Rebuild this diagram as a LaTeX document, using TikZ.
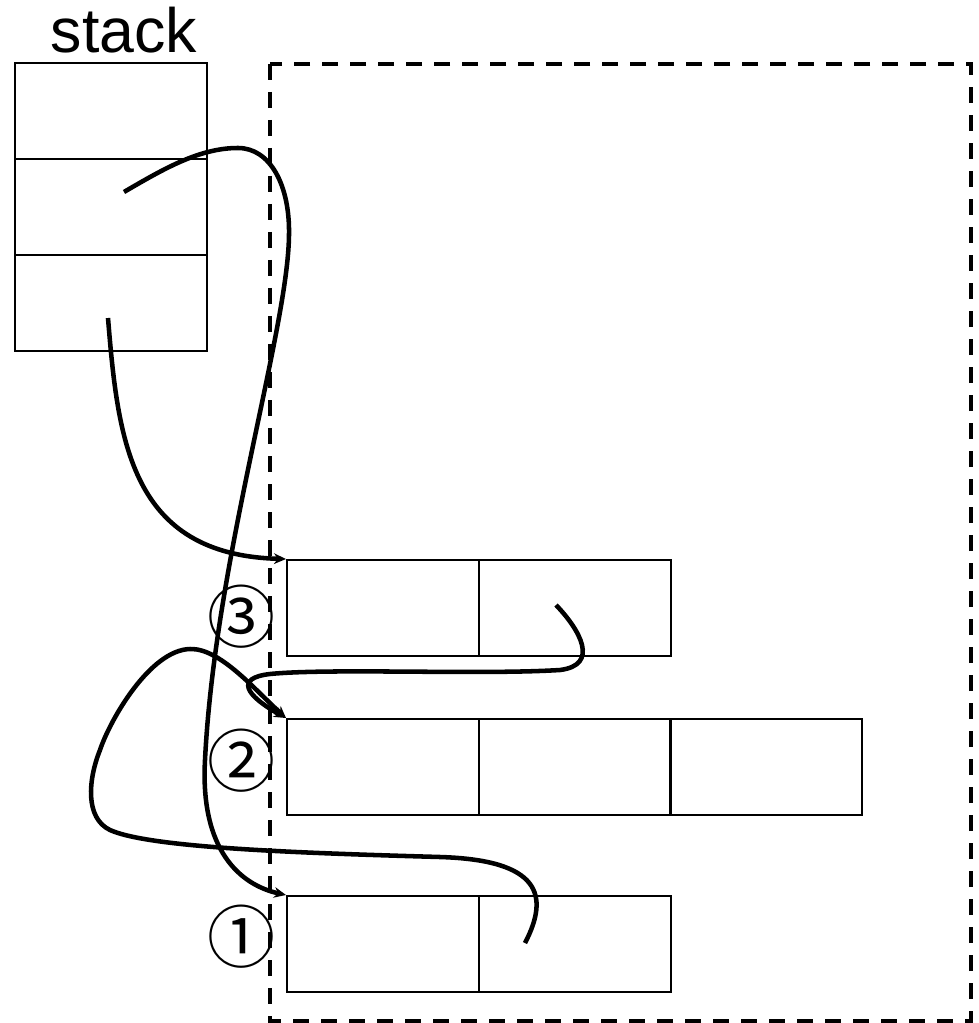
\documentclass[tikz,border=0pt]{standalone}
\usepackage{fontspec}
\setmainfont{Liberation Sans}
\newfontfamily\cjk{Noto Sans CJK JP}
\usetikzlibrary{arrows.meta}
\begin{document}
\begin{tikzpicture}[x=0.75pt,y=-0.75pt,
  cell/.style={draw,line width=1.5pt,minimum width=144pt,minimum height=72pt,inner sep=0pt,anchor=north west},
  ptr/.style={line width=3.4pt,-{Stealth[length=9pt,width=8pt]}},
  circnum/.style={font=\cjk\fontsize{51pt}{51pt}\selectfont,inner sep=0pt},
  heap/.style={draw,line width=3pt,dash pattern=on 12pt off 9pt}]
\useasboundingbox (0,0) rectangle (978,1023);
% heap region
\draw[heap] (270,64) rectangle (971,1021);
% stack
\node[font=\fontsize{47pt}{47pt}\selectfont,anchor=base] (stacklbl) at (124,53) {stack};
\node[cell] (s1) at (14,62) {};
\node[cell] (s2) at (14,158) {};
\node[cell] (s3) at (14,254) {};
% heap cells
\node[cell] (r3a) at (286,559) {};
\node[cell] (r3b) at (478,559) {};
\node[cell] (r2a) at (286,718) {};
\node[cell] (r2b) at (478,718) {};
\node[cell] (r2c) at (669,718) {};
\node[cell] (r1a) at (286,895) {};
\node[cell] (r1b) at (478,895) {};
% labels
\node[circnum] (n3) at (241,617) {③};
\node[circnum] (n2) at (241,761) {②};
\node[circnum] (n1) at (241,937) {①};
% pointer start points
\coordinate (pa) at (124,192);
\coordinate (pb) at (108,318);
\coordinate (pc) at (556,605);
\coordinate (pd) at (525,943);
% pointers
\draw[ptr] (pa) .. controls (165,168) and (200,148) .. (238,148)
  .. controls (270,148) and (290,185) .. (289,235)
  .. controls (288,330) and (215,560) .. (205,760)
  .. controls (200,850) and (240,885) .. (r1a.north west);
\draw[ptr] (pb) .. controls (118,440) and (130,555) .. (r3a.north west);
\draw[ptr] (pc) .. controls (580,630) and (600,665) .. (560,670)
  .. controls (480,675) and (330,668) .. (270,674)
  .. controls (235,678) and (245,695) .. (r2a.north west);
\draw[ptr] (pd) .. controls (550,895) and (540,860) .. (440,857)
  .. controls (300,853) and (150,848) .. (110,830)
  .. controls (85,818) and (88,780) .. (100,750)
  .. controls (110,720) and (150,650) .. (190,649)
  .. controls (220,648) and (255,690) .. (r2a.north west);
\end{tikzpicture}
\end{document}
